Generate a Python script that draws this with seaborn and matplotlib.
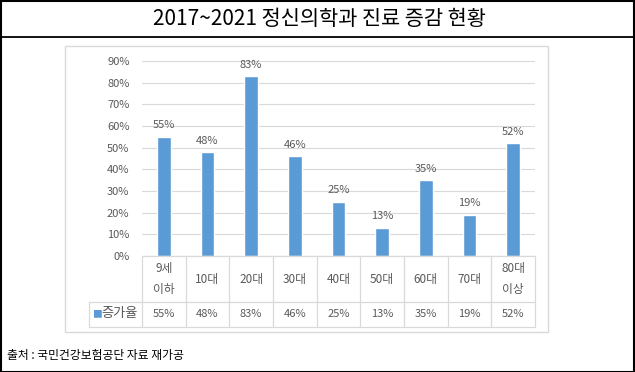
import matplotlib
matplotlib.use("Agg")
import matplotlib.pyplot as plt
import seaborn as sns
import pandas as pd
from matplotlib.patches import Rectangle

categories = ["9세\n이하", "10대", "20대", "30대", "40대", "50대", "60대", "70대", "80대\n이상"]
rates = [55, 48, 83, 46, 25, 13, 35, 19, 52]
series_name = "증가율"
title = "2017~2021 정신의학과 진료 증감 현황"
source = "출처 : 국민건강보험공단 자료 재가공"

sns.set_style("white")
plt.rcParams['font.family'] = ['Noto Sans CJK KR', 'DejaVu Sans']

bar_color = "#5B9BD5"
grey_text = "#595959"
line_grey = "#D9D9D9"

W, H = 635, 372
fig = plt.figure(figsize=(W / 100, H / 100), dpi=100)


def box(x0, y0, x1, y1):
    # pixel box (top-left origin) -> figure fractions
    return [x0 / W, 1 - y1 / H, (x1 - x0) / W, (y1 - y0) / H]


# outer frame, title separator and chart box
fig.patches.append(Rectangle((0.5 / W, 0.5 / H), 1 - 1.5 / W, 1 - 1.5 / H, transform=fig.transFigure,
                             fill=False, ec="black", lw=1.5))
fig.add_artist(plt.Line2D([0, 1], [1 - 37 / H, 1 - 37 / H], transform=fig.transFigure, color="black", lw=1.3))
fig.patches.append(Rectangle((65 / W, 1 - 332 / H), (548 - 65) / W, (332 - 46) / H, transform=fig.transFigure,
                             fill=False, ec=line_grey, lw=1.0))

fig.text(319 / W, 1 - 19 / H, title, ha="center", va="center", fontsize=15, color="black")
fig.text(7 / W, 1 - 355 / H, source, ha="left", va="center", fontsize=8.5, color="black")

# bar chart
df = pd.DataFrame({"category": categories, "rate": [r / 100 for r in rates]})
ax = fig.add_axes(box(142, 61, 535, 256))
sns.barplot(data=df, x="category", y="rate", color=bar_color, width=0.32, ax=ax, saturation=1)
ax.set_xlim(-0.5, len(categories) - 0.5)
ax.set_ylim(0, 0.9)
ax.set_yticks([i / 10 for i in range(10)])
ax.set_yticklabels([f"{i * 10}%" for i in range(10)], color=grey_text, fontsize=8)
ax.tick_params(axis="y", length=0, pad=9)
ax.set_xticks([])
ax.set_xlabel("")
ax.set_ylabel("")
ax.yaxis.grid(True, color=line_grey, lw=0.8)
ax.set_axisbelow(True)
for s in ["top", "right", "left", "bottom"]:
    ax.spines[s].set_visible(False)
for i, r in enumerate(rates):
    ax.text(i, r / 100 + 0.03, f"{r}%", ha="center", va="bottom", fontsize=8, color=grey_text)

# data table under the axis
tab = fig.add_axes(box(142, 256, 535, 327))
tab.set_xlim(-0.5, len(categories) - 0.5)
tab.set_ylim(71, 0)
tab.axis("off")
unit = 393 / len(categories)
left_x = -0.5 - 53 / unit
kw = dict(color=line_grey, lw=0.9, clip_on=False)
tab.plot([-0.5, len(categories) - 0.5], [0, 0], **kw)
tab.plot([left_x, len(categories) - 0.5], [46, 46], **kw)
tab.plot([left_x, len(categories) - 0.5], [71, 71], **kw)
tab.plot([left_x, left_x], [46, 71], **kw)
for b in range(len(categories) + 1):
    tab.plot([b - 0.5, b - 0.5], [0, 71], **kw)
for i, (c, r) in enumerate(zip(categories, rates)):
    tab.text(i, 23, c, ha="center", va="center", fontsize=8.5, color=grey_text, linespacing=1.75)
    tab.text(i, 58, f"{r}%", ha="center", va="center", fontsize=8, color=grey_text)
tab.text(left_x + 3 / unit, 58, "■", ha="left", va="center", fontsize=7, color=bar_color)
tab.text(left_x + 12 / unit, 58, series_name, ha="left", va="center", fontsize=9.5, color=grey_text)

fig.savefig("out.png", dpi=100)
